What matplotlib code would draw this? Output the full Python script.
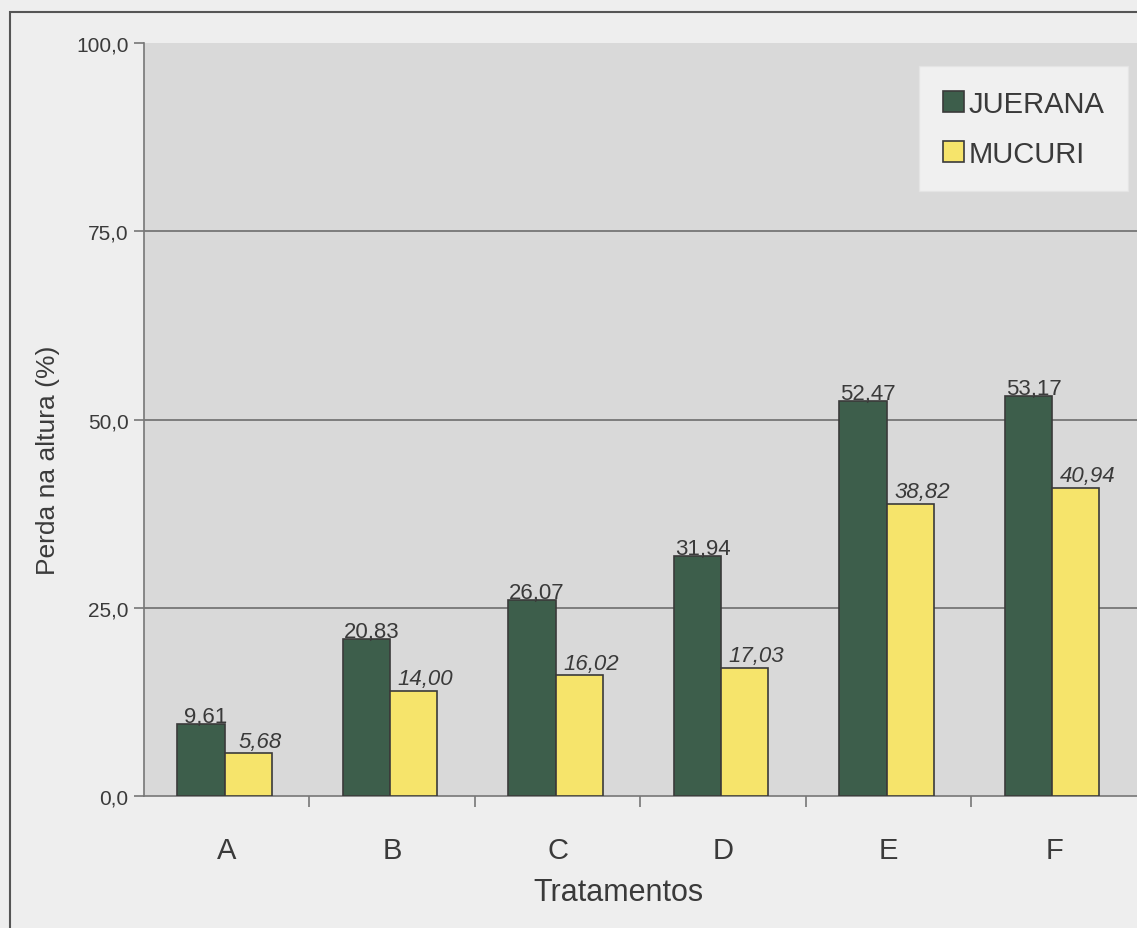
import numpy as np
import matplotlib.pyplot as plt
from matplotlib.patches import Rectangle

# Dados
tratamentos = ["A", "B", "C", "D", "E", "F"]
juerana = [9.61, 20.83, 26.07, 31.94, 52.47, 53.17]
mucuri = [5.68, 14.00, 16.02, 17.03, 38.82, 40.94]
rotulos_y = ["0,0", "25,0", "50,0", "75,0", "100,0"]
valores_y = [0, 25, 50, 75, 100]

plt.rcParams['font.family'] = ['Liberation Sans', 'DejaVu Sans']

cor_juerana = "#3d5e4b"
cor_mucuri = "#f6e46b"
cor_texto = "#3a3a3a"

fig = plt.figure(figsize=(11.37, 9.29), dpi=100)
fig.patch.set_facecolor("#eeeeee")

# moldura externa
fig.add_artist(Rectangle((0.009, -0.05), 1.1, 1.036, transform=fig.transFigure,
                         fill=False, edgecolor="#555555", linewidth=1.5))

ax = fig.add_axes([0.1266, 0.142, 0.8734, 0.8106])
ax.set_facecolor("#d9d9d9")

x = np.arange(len(tratamentos))
larg = 0.285
ax.bar(x - 0.155, juerana, larg, color=cor_juerana, edgecolor="#3a3a3a",
       linewidth=1.2, label="JUERANA", zorder=3)
ax.bar(x + 0.13, mucuri, larg, color=cor_mucuri, edgecolor="#3a3a3a",
       linewidth=1.2, label="MUCURI", zorder=3)

for xi, v in zip(x, juerana):
    ax.text(xi - 0.125, v - 0.4, f"{v:.2f}".replace(".", ","), ha="center",
            va="bottom", fontsize=16, color=cor_texto, zorder=4)
for xi, v in zip(x, mucuri):
    ax.text(xi + 0.2, v + 0.2, f"{v:.2f}".replace(".", ","), ha="center",
            va="bottom", fontsize=16, style="italic", color=cor_texto, zorder=4)

ax.set_xlim(-0.5, 5.5)
ax.set_ylim(0, 100)
ax.set_yticks(valores_y)
ax.set_yticklabels(rotulos_y, fontsize=15, color=cor_texto)
for y in [25, 50, 75]:
    ax.axhline(y, color="#6e6e6e", linewidth=1.2, zorder=1)

ax.set_xticks(x)
ax.set_xticklabels(tratamentos, fontsize=21, color=cor_texto)
ax.set_xticks(np.arange(0.5, 5.5, 1), minor=True)
ax.tick_params(axis="x", which="major", length=0, pad=29)
ax.tick_params(axis="x", which="minor", length=8, color="#777777", width=1.2)
ax.tick_params(axis="y", length=7, color="#777777", width=1.2, pad=4)

for s in ["top", "right"]:
    ax.spines[s].set_visible(False)
for s in ["left", "bottom"]:
    ax.spines[s].set_color("#777777")
    ax.spines[s].set_linewidth(1.2)

ax.set_xlabel("Tratamentos", fontsize=22, color=cor_texto)
ax.xaxis.set_label_coords(0.478, -0.108)
ax.set_ylabel("Perda na altura (%)", fontsize=19, color=cor_texto)
ax.yaxis.set_label_coords(-0.085, 0.4475)

leg = ax.legend(loc="upper right", bbox_to_anchor=(0.991, 0.969), fontsize=21,
                frameon=True, fancybox=False, handlelength=0.75, handleheight=0.75,
                handletextpad=0.15, labelspacing=0.75, borderpad=0.8,
                borderaxespad=0)
leg.get_frame().set_facecolor("#f7f7f7")
leg.get_frame().set_edgecolor("#e4e4e4")
for t in leg.get_texts():
    t.set_color(cor_texto)

fig.savefig("out.png", dpi=100, facecolor=fig.get_facecolor())
